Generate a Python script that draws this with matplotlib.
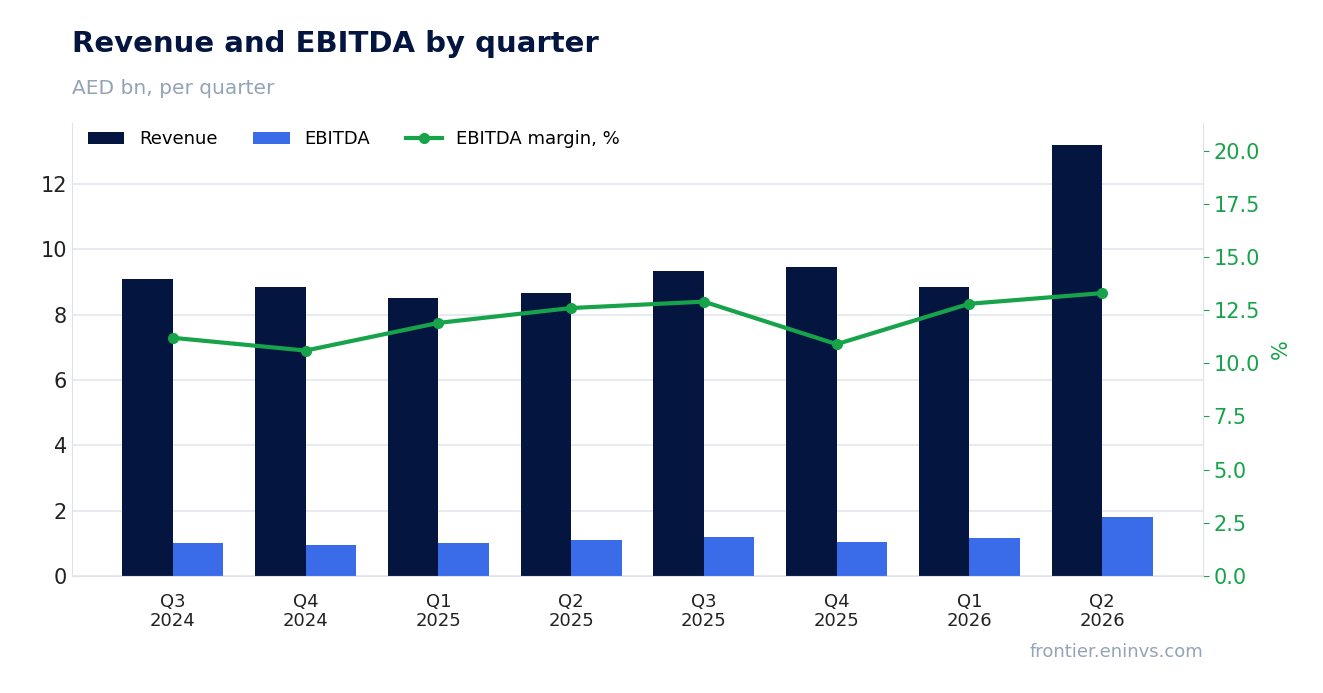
import matplotlib
matplotlib.use("Agg")
import matplotlib.pyplot as plt
import numpy as np

quarters = ["Q3\n2024","Q4\n2024","Q1\n2025","Q2\n2025","Q3\n2025","Q4\n2025","Q1\n2026","Q2\n2026"]
revenue = [9.1, 8.85, 8.5, 8.65, 9.35, 9.45, 8.85, 13.2]
ebitda = [1.02, 0.95, 1.02, 1.1, 1.2, 1.05, 1.15, 1.8]
margin = [11.2, 10.6, 11.9, 12.6, 12.9, 10.9, 12.8, 13.3]

navy = "#041640"; blue = "#3a6be8"; green = "#16a34a"
fig = plt.figure(figsize=(13.23, 6.93), dpi=100)
ax = fig.add_axes([72/1323, 1-576/693, (1203-72)/1323, (576-123)/693])
x = np.arange(len(quarters))
w = 0.38
ax.bar(x - w/2, revenue, w, color=navy, label="Revenue", zorder=2)
ax.bar(x + w/2, ebitda, w, color=blue, label="EBITDA", zorder=2)
ax.set_xlim(-0.76, 7.76)
ax.set_ylim(0, 13.87)
ax.set_yticks(range(0, 13, 2))
ax.grid(axis="y", color="#e3e6ee", lw=1.2, zorder=0)
ax.set_xticks(x)
ax.set_xticklabels(quarters, fontsize=13, color="#222", linespacing=1.1)
ax.tick_params(axis="y", labelsize=15, colors="#222", length=0)
ax.tick_params(axis="x", length=0, pad=12)
for s in ["top", "right"]:
    ax.spines[s].set_visible(False)
for s in ["left", "bottom"]:
    ax.spines[s].set_color("#dde2ee")

ax2 = ax.twinx()
ax2.plot(x, margin, color=green, lw=3, marker="o", ms=7, label="EBITDA margin, %", zorder=3)
ax2.set_ylim(0, 21.3)
ax2.set_yticks(np.arange(0, 20.1, 2.5))
ax2.set_yticklabels([f"{v:.1f}" for v in np.arange(0, 20.1, 2.5)])
ax2.tick_params(axis="y", labelsize=15, colors=green, length=4, color=green)
ax2.set_ylabel("%", color=green, fontsize=15, labelpad=8)
for s in ["top", "left", "bottom"]:
    ax2.spines[s].set_visible(False)
ax2.spines["right"].set_color("#dde2ee")

h1, l1 = ax.get_legend_handles_labels()
h2, l2 = ax2.get_legend_handles_labels()
ax.legend(h1 + h2, l1 + l2, loc="upper left", ncol=3, frameon=False, fontsize=13,
          bbox_to_anchor=(0.0, 1.02), columnspacing=2.0)

fig.text(72/1323, 1-44/693, "Revenue and EBITDA by quarter", fontsize=21, fontweight="bold", color=navy, va="center")
fig.text(72/1323, 1-88/693, "AED bn, per quarter", fontsize=14.5, color="#94a3b8", va="center")
fig.text(1203/1323, 1-652/693, "frontier.eninvs.com", fontsize=13, color="#94a3b8", va="center", ha="right")
fig.savefig("out.png", dpi=100)
